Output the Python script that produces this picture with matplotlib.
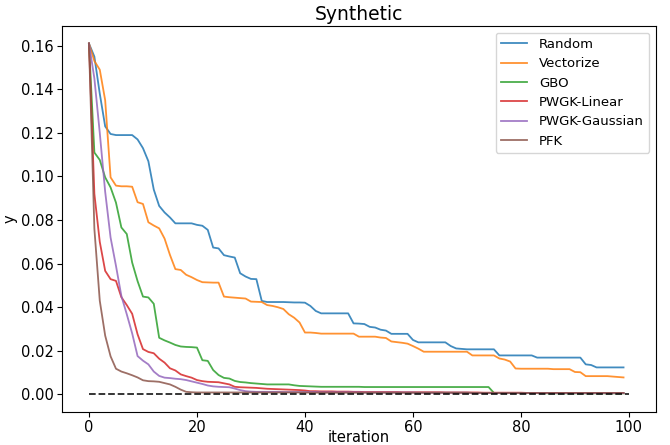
import matplotlib
matplotlib.use("Agg")
import matplotlib.pyplot as plt
import numpy as np

# best value found so far at each iteration, one list per method
random_y = [
    0.161, 0.155, 0.138, 0.123, 0.1195, 0.119, 0.119, 0.119, 0.119, 0.117,
    0.113, 0.107, 0.094, 0.0865, 0.0835, 0.0812, 0.0785, 0.0785, 0.0785, 0.0785,
    0.0778, 0.0774, 0.0755, 0.0674, 0.067, 0.0639, 0.0633, 0.0628, 0.0556, 0.0541,
    0.053, 0.0529, 0.0429, 0.0424, 0.0424, 0.0424, 0.0424, 0.0423, 0.0422, 0.0422,
    0.0421, 0.0406, 0.0383, 0.0372, 0.0372, 0.0372, 0.0372, 0.0372, 0.0372, 0.0326,
    0.0325, 0.0323, 0.031, 0.0307, 0.0297, 0.0293, 0.0278, 0.0278, 0.0278, 0.0278,
    0.025, 0.0239, 0.0239, 0.0239, 0.0239, 0.0239, 0.0239, 0.0222, 0.0211, 0.0209,
    0.0207, 0.0207, 0.0207, 0.0207, 0.0207, 0.0207, 0.0179, 0.0179, 0.0179, 0.0179,
    0.0179, 0.0179, 0.0179, 0.0169, 0.0169, 0.0169, 0.0169, 0.0169, 0.0169, 0.0169,
    0.0169, 0.0169, 0.0138, 0.0135, 0.0124, 0.0124, 0.0124, 0.0124, 0.0124, 0.0124,
]
vectorize_y = [
    0.161, 0.153, 0.149, 0.135, 0.0996, 0.0958, 0.0955, 0.0955, 0.0953, 0.0882,
    0.0874, 0.079, 0.0775, 0.0762, 0.0715, 0.064, 0.0575, 0.0571, 0.0549, 0.0538,
    0.0525, 0.0515, 0.0514, 0.0513, 0.0513, 0.0449, 0.0446, 0.0444, 0.0442, 0.044,
    0.0426, 0.0425, 0.0424, 0.041, 0.0406, 0.04, 0.0392, 0.0368, 0.0352, 0.033,
    0.0284, 0.0284, 0.0282, 0.0279, 0.0279, 0.0279, 0.0279, 0.0279, 0.0279, 0.0279,
    0.0265, 0.0265, 0.0265, 0.0265, 0.0261, 0.0259, 0.0243, 0.024, 0.0237, 0.0233,
    0.0222, 0.021, 0.0196, 0.0196, 0.0196, 0.0196, 0.0196, 0.0196, 0.0196, 0.0196,
    0.0196, 0.0179, 0.0179, 0.0179, 0.0179, 0.0179, 0.0165, 0.016, 0.0151, 0.0119,
    0.0118, 0.0118, 0.0118, 0.0118, 0.0118, 0.0118, 0.0116, 0.0116, 0.0116, 0.0116,
    0.0103, 0.0102, 0.0084, 0.0084, 0.0084, 0.0084, 0.0084, 0.0082, 0.008, 0.0078,
]
gbo_y = [
    0.161, 0.111, 0.1076, 0.0996, 0.095, 0.088, 0.0766, 0.0736, 0.0605, 0.052,
    0.0449, 0.0445, 0.0416, 0.026, 0.0248, 0.0238, 0.0227, 0.022, 0.0218, 0.0217,
    0.0215, 0.0157, 0.0154, 0.0112, 0.0089, 0.0076, 0.0073, 0.0062, 0.0057, 0.0055,
    0.0052, 0.005, 0.0048, 0.0046, 0.0046, 0.0046, 0.0046, 0.0046, 0.0042, 0.0039,
    0.0038, 0.0037, 0.0036, 0.0035, 0.0035, 0.0035, 0.0035, 0.0035, 0.0035, 0.0035,
    0.0035, 0.0034, 0.0034, 0.0034, 0.0034, 0.0034, 0.0034, 0.0034, 0.0034, 0.0034,
    0.0034, 0.0034, 0.0034, 0.0034, 0.0034, 0.0034, 0.0034, 0.0034, 0.0034, 0.0034,
    0.0034, 0.0034, 0.0034, 0.0034, 0.0034, 0.0007, 0.0006, 0.0006, 0.0006, 0.0006,
    0.0006, 0.0006, 0.0006, 0.0006, 0.0006, 0.0005, 0.0005, 0.0005, 0.0005, 0.0005,
    0.0005, 0.0005, 0.0005, 0.0005, 0.0005, 0.0005, 0.0005, 0.0005, 0.0005, 0.0005,
]
pwgk_linear_y = [
    0.161, 0.092, 0.070, 0.0567, 0.0529, 0.0521, 0.0446, 0.041, 0.037, 0.0276,
    0.0208, 0.0195, 0.0189, 0.0164, 0.0146, 0.012, 0.011, 0.0092, 0.0084, 0.0077,
    0.0066, 0.0061, 0.0058, 0.0057, 0.0056, 0.0051, 0.0046, 0.0035, 0.0033, 0.0032,
    0.0031, 0.003, 0.0028, 0.0026, 0.0025, 0.0024, 0.0023, 0.0022, 0.0021, 0.002,
    0.0018, 0.0015, 0.0015, 0.0014, 0.0014, 0.0014, 0.0013, 0.0013, 0.0013, 0.0012,
    0.0012, 0.0011, 0.0011, 0.0011, 0.0011, 0.0011, 0.0011, 0.0011, 0.001, 0.001,
    0.001, 0.001, 0.001, 0.001, 0.001, 0.001, 0.0009, 0.0009, 0.0009, 0.0009,
    0.0009, 0.0009, 0.0009, 0.0008, 0.0008, 0.0008, 0.0008, 0.0008, 0.0008, 0.0008,
    0.0008, 0.0007, 0.0007, 0.0007, 0.0007, 0.0007, 0.0007, 0.0007, 0.0007, 0.0007,
    0.0007, 0.0006, 0.0006, 0.0006, 0.0006, 0.0006, 0.0006, 0.0006, 0.0006, 0.0006,
]
pwgk_gaussian_y = [
    0.161, 0.145, 0.120, 0.093, 0.072, 0.059, 0.0452, 0.0368, 0.028, 0.0176,
    0.0155, 0.0138, 0.0105, 0.0085, 0.0077, 0.0075, 0.0072, 0.007, 0.0066, 0.006,
    0.0054, 0.0048, 0.0041, 0.0037, 0.0035, 0.0034, 0.0033, 0.0027, 0.002, 0.0015,
    0.0013, 0.0012, 0.0012, 0.0012, 0.0012, 0.0012, 0.0011, 0.0011, 0.0011, 0.0011,
    0.0011, 0.0011, 0.0011, 0.001, 0.001, 0.001, 0.001, 0.001, 0.001, 0.001,
    0.001, 0.0009, 0.0009, 0.0009, 0.0009, 0.0009, 0.0009, 0.0009, 0.0009, 0.0009,
    0.0009, 0.0008, 0.0008, 0.0008, 0.0008, 0.0008, 0.0008, 0.0008, 0.0008, 0.0008,
    0.0008, 0.0007, 0.0007, 0.0007, 0.0007, 0.0007, 0.0007, 0.0007, 0.0007, 0.0007,
    0.0007, 0.0007, 0.0007, 0.0007, 0.0007, 0.0007, 0.0006, 0.0006, 0.0006, 0.0006,
    0.0006, 0.0006, 0.0006, 0.0006, 0.0006, 0.0006, 0.0006, 0.0006, 0.0006, 0.0006,
]
pfk_y = [
    0.161, 0.076, 0.043, 0.027, 0.0175, 0.0118, 0.0105, 0.0097, 0.0088, 0.0078,
    0.0065, 0.0061, 0.006, 0.0058, 0.0052, 0.0046, 0.0035, 0.0022, 0.0012, 0.001,
    0.0009, 0.0009, 0.0009, 0.0009, 0.0009, 0.0009, 0.0009, 0.0009, 0.0009, 0.0009,
    0.0009, 0.0009, 0.0009, 0.0009, 0.0009, 0.0009, 0.0009, 0.0009, 0.0009, 0.0009,
    0.0009, 0.0008, 0.0008, 0.0008, 0.0008, 0.0008, 0.0008, 0.0008, 0.0008, 0.0008,
    0.0008, 0.0008, 0.0008, 0.0008, 0.0008, 0.0008, 0.0008, 0.0008, 0.0008, 0.0008,
    0.0008, 0.0008, 0.0008, 0.0008, 0.0008, 0.0008, 0.0008, 0.0008, 0.0008, 0.0008,
    0.0008, 0.0007, 0.0007, 0.0007, 0.0007, 0.0007, 0.0007, 0.0007, 0.0007, 0.0007,
    0.0007, 0.0007, 0.0007, 0.0007, 0.0007, 0.0007, 0.0007, 0.0007, 0.0007, 0.0007,
    0.0007, 0.0007, 0.0007, 0.0007, 0.0007, 0.0007, 0.0007, 0.0007, 0.0007, 0.0007,
]

labels = ["Random", "Vectorize", "GBO", "PWGK-Linear", "PWGK-Gaussian", "PFK"]
curves = [random_y, vectorize_y, gbo_y, pwgk_linear_y, pwgk_gaussian_y, pfk_y]

optimum = 0.0
n_iter = 100

fig, ax = plt.subplots(figsize=(6.7, 4.45), dpi=100)
fig.subplots_adjust(left=0.0925, right=0.979, top=0.9416, bottom=0.0742)

iters = np.arange(len(random_y))
for lab, ys in zip(labels, curves):
    ax.plot(iters, ys, label=lab, lw=1.3, alpha=0.85)

ax.hlines(optimum, 0, n_iter, colors="k", linestyles="dashed", lw=1.3, alpha=0.85)

ax.set_title("Synthetic", fontsize=13.5, pad=4)
ax.set_xlabel("iteration", fontsize=10.5, labelpad=-3.5)
ax.set_ylabel("y", fontsize=10.5, labelpad=2)
ax.tick_params(labelsize=10.5, pad=2.5)
ax.legend(fontsize=9.5, labelspacing=0.48, borderpad=0.4, handletextpad=0.9)

plt.savefig("out.png")
